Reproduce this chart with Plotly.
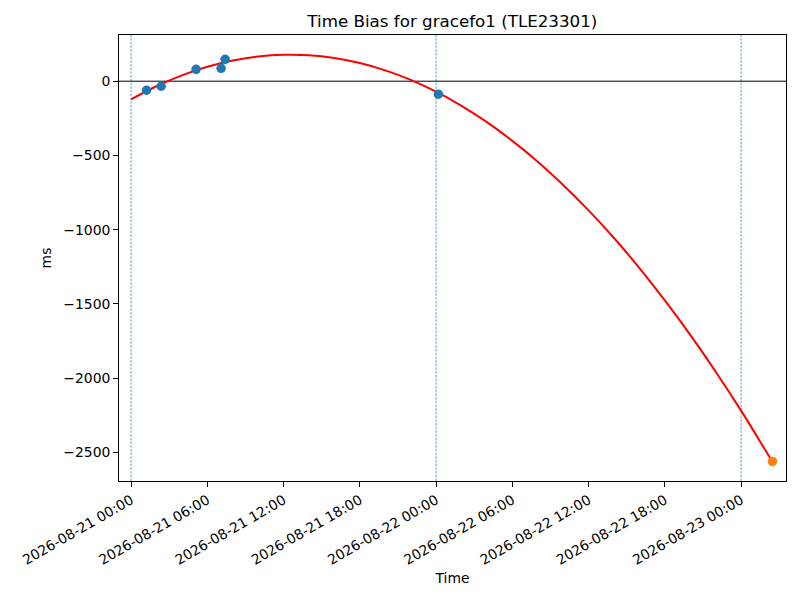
import plotly.graph_objects as go

# Observed time-bias points (blue)
obs_times = ["2026-08-21 01:13", "2026-08-21 02:22", "2026-08-21 05:07",
             "2026-08-21 07:05", "2026-08-21 07:24", "2026-08-22 00:11"]
obs_ms = [-61, -34, 80, 87, 147, -88]

# Predicted point (orange)
pred_times = ["2026-08-23 02:28"]
pred_ms = [-2560]

# Fitted curve (red), sampled every 2 hours from 2026-08-21 00:00
fit_times = ["2026-08-21 00:00", "2026-08-21 02:00", "2026-08-21 04:00", "2026-08-21 06:00",
             "2026-08-21 08:00", "2026-08-21 10:00", "2026-08-21 12:00", "2026-08-21 14:00",
             "2026-08-21 16:00", "2026-08-21 18:00", "2026-08-21 20:00", "2026-08-21 22:00",
             "2026-08-22 00:00", "2026-08-22 02:00", "2026-08-22 04:00", "2026-08-22 06:00",
             "2026-08-22 08:00", "2026-08-22 10:00", "2026-08-22 12:00", "2026-08-22 14:00",
             "2026-08-22 16:00", "2026-08-22 18:00", "2026-08-22 20:00", "2026-08-22 22:00",
             "2026-08-23 00:00", "2026-08-23 02:00", "2026-08-23 02:28"]
fit_ms = [-122, -34, 39, 97, 139, 166, 178, 175, 156, 122, 73, 9,
          -71, -166, -276, -402, -542, -699, -870, -1056, -1258, -1476,
          -1708, -1956, -2218, -2497, -2562]

# Day boundary markers
day_lines = ["2026-08-21 00:00", "2026-08-22 00:00", "2026-08-23 00:00"]

FONT = "DejaVu Sans"
OFF = 8  # page body margin offset
FS = 13.9

fig = go.Figure()
fig.add_trace(go.Scatter(x=fit_times, y=fit_ms, mode="lines", line=dict(color="#ff0000", width=2),
                         line_shape="spline", showlegend=False, hoverinfo="skip"))
fig.add_trace(go.Scatter(x=obs_times, y=obs_ms, mode="markers",
                         marker=dict(color="#1f77b4", size=9.5), showlegend=False))
fig.add_trace(go.Scatter(x=pred_times, y=pred_ms, mode="markers",
                         marker=dict(color="#ff7f0e", size=9.5), showlegend=False))

for d in day_lines:
    fig.add_shape(type="line", xref="x", yref="paper", x0=d, x1=d, y0=0, y1=1,
                  line=dict(color="#2f86c8", width=1, dash="2.5px,1.2px"), opacity=0.8,
                  layer="below")
fig.add_shape(type="line", xref="paper", yref="y", x0=0, x1=1, y0=0, y1=0,
              line=dict(color="black", width=1), layer="below")

fig.update_layout(
    width=800, height=600,
    margin=dict(l=119 - OFF, r=14 + OFF, t=35 - OFF, b=119 + OFF),
    paper_bgcolor="white", plot_bgcolor="white",
    font=dict(family=FONT, size=FS, color="black"),
    title=dict(text="Time Bias for gracefo1 (TLE23301)", x=(119 + 785.7) / 2 / 800 - OFF / 800,
               xanchor="center", y=1 - (21 - OFF) / 600, yanchor="middle", yref="container",
               font=dict(family=FONT, size=16.7, color="black")),
    xaxis=dict(range=["2026-08-20 23:03", "2026-08-23 03:32"], showgrid=False, zeroline=False,
               showline=True, linecolor="black", linewidth=1, mirror=True,
               ticks="outside", ticklen=4.9, tickwidth=1, tickcolor="black",
               tick0="2026-08-21 00:00", dtick=6 * 3600 * 1000, tickformat="%Y-%m-%d %H:%M",
               tickangle=-30, tickfont=dict(size=FS), automargin=False,
               title=dict(text="Time", font=dict(size=FS), standoff=6)),
    yaxis=dict(range=[-2692, 311], showgrid=False, zeroline=False,
               showline=True, linecolor="black", linewidth=1, mirror=True,
               ticks="outside", ticklen=4.9, tickwidth=1, tickcolor="black",
               tickvals=[0, -500, -1000, -1500, -2000, -2500], tickfont=dict(size=FS),
               automargin=False,
               title=dict(text="ms", font=dict(size=FS), standoff=8)),
)

fig.write_html("out.html")
